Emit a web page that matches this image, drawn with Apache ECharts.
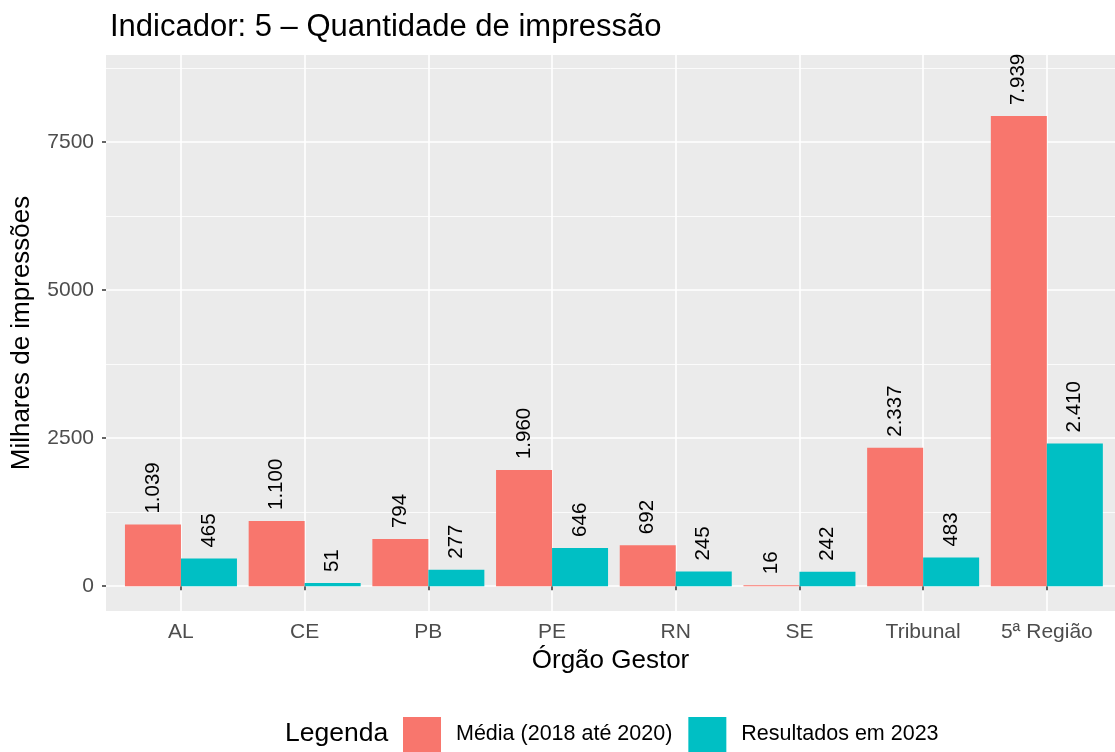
<!DOCTYPE html>
<html>
<head>
<meta charset="utf-8">
<script src="https://cdn.jsdelivr.net/npm/echarts@6/dist/echarts.min.js"></script>
<style>
  html, body { margin: 0; padding: 0; background: #fff; }
  #chart { width: 1115px; height: 752px; }
</style>
</head>
<body>
<div id="chart"></div>
<script>
// categorias (órgão gestor) e valores em milhares de impressões
const orgaos = ['AL', 'CE', 'PB', 'PE', 'RN', 'SE', 'Tribunal', '5ª Região']
const media2018a2020 = [1039, 1100, 794, 1960, 692, 16, 2337, 7939]
const resultados2023 = [465, 51, 277, 646, 245, 242, 483, 2410]
const yTicks = [0, 2500, 5000, 7500]
const yMinorTicks = [1250, 3750, 6250, 8750]

const FONT = 'Liberation Sans'
const fmt = v => String(v).replace(/\B(?=(\d{3})+(?!\d))/g, '.')
const xPos = orgaos.map((_, i) => i + 1)

const chart = echarts.init(document.getElementById('chart'))

const barLabel = {
  show: true,
  position: 'top',
  rotate: 90,
  align: 'left',
  verticalAlign: 'middle',
  distance: 11,
  color: '#000',
  fontFamily: FONT,
  fontSize: 20.5,
  formatter: p => fmt(p.value[1])
}

const option = {
  animation: false,
  textStyle: { fontFamily: FONT },
  title: {
    text: 'Indicador: 5 – Quantidade de impressão',
    left: 105,
    top: 7,
    textStyle: { fontFamily: FONT, fontSize: 31, fontWeight: 'normal', color: '#000' }
  },
  grid: {
    left: 106,
    right: 0,
    top: 55,
    bottom: 141,
    show: true,
    backgroundColor: '#EBEBEB',
    borderWidth: 0
  },
  legend: {
    left: 403,
    top: 717,
    padding: 0,
    itemWidth: 38,
    itemHeight: 35,
    itemGap: 16,
    icon: 'rect',
    textStyle: { fontFamily: FONT, fontSize: 21.5, color: '#000', padding: [0, 0, 0, 10] },
    data: ['Média (2018 até 2020)', 'Resultados em 2023']
  },
  graphic: [{
    type: 'text',
    left: 285,
    top: 720,
    style: { text: 'Legenda', fontFamily: FONT, fontSize: 26.5, fill: '#000' }
  }],
  xAxis: {
    type: 'value',
    min: 0.394,
    max: 8.551,
    name: 'Órgão Gestor',
    nameLocation: 'middle',
    nameGap: 37,
    nameTextStyle: { fontFamily: FONT, fontSize: 26, color: '#000' },
    axisLine: { show: false },
    axisTick: { show: true, length: 4, lineStyle: { color: '#333', width: 1.5 }, customValues: xPos },
    axisLabel: {
      customValues: xPos,
      margin: 11,
      color: '#4D4D4D',
      fontFamily: FONT,
      fontSize: 21,
      formatter: v => orgaos[Math.round(v) - 1] || ''
    },
    splitLine: { show: true, lineStyle: { color: '#fff', width: 1.6 } }
  },
  yAxis: [{
    type: 'value',
    min: -420,
    max: 8970,
    name: 'Milhares de impressões',
    nameLocation: 'middle',
    nameGap: 71,
    nameTextStyle: { fontFamily: FONT, fontSize: 26, color: '#000' },
    axisLine: { show: false },
    axisTick: { show: true, length: 4, lineStyle: { color: '#333', width: 1.5 }, customValues: yTicks },
    axisLabel: {
      customValues: yTicks,
      margin: 12,
      color: '#4D4D4D',
      fontFamily: FONT,
      fontSize: 21,
      formatter: v => String(v)
    },
    splitLine: { show: true, lineStyle: { color: '#fff', width: 1.6 } }
  }, {
    // linhas de grade secundárias
    type: 'value',
    position: 'left',
    min: -420,
    max: 8970,
    axisLine: { show: false },
    axisTick: { show: false, customValues: yMinorTicks },
    axisLabel: { show: false, customValues: yMinorTicks },
    splitLine: { show: true, lineStyle: { color: '#fff', width: 0.8 } }
  }],
  series: [{
    name: 'Média (2018 até 2020)',
    type: 'bar',
    barWidth: 56,
    barGap: '0%',
    itemStyle: { color: '#F8766D' },
    label: barLabel,
    data: xPos.map((x, i) => [x, media2018a2020[i]])
  }, {
    name: 'Resultados em 2023',
    type: 'bar',
    barWidth: 56,
    barGap: '0%',
    itemStyle: { color: '#00BFC4' },
    label: barLabel,
    data: xPos.map((x, i) => [x, resultados2023[i]])
  }]
}

chart.setOption(option)
window.addEventListener('resize', () => {
  chart.resize()
})
</script>
</body>
</html>
